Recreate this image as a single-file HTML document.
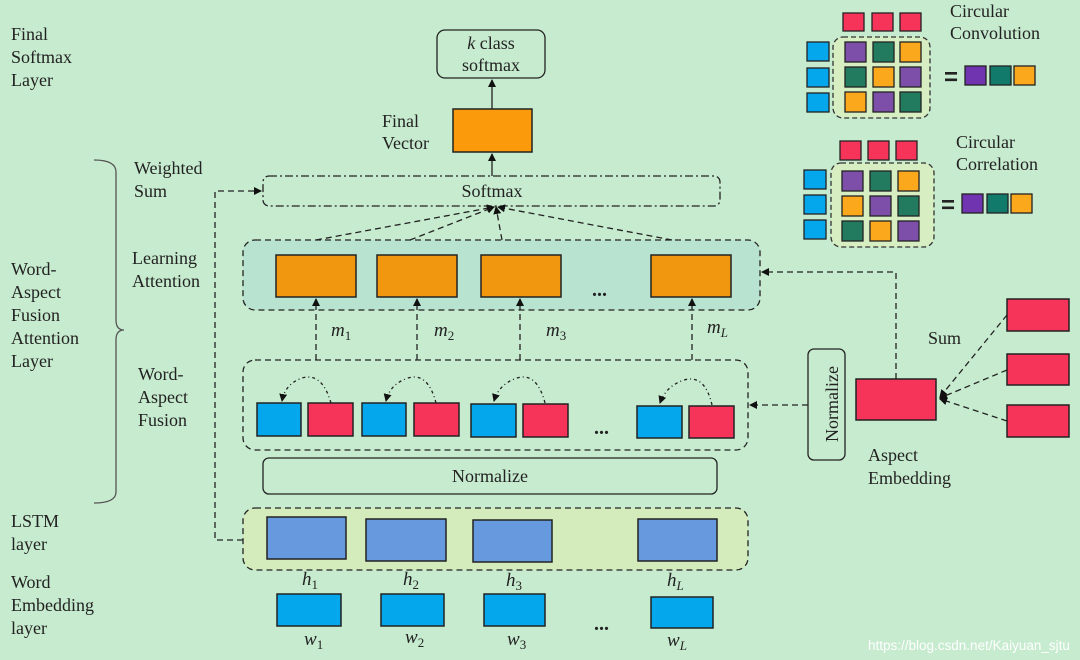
<!DOCTYPE html>
<html><head><meta charset="utf-8"><style>
html,body{margin:0;padding:0;background:#c7ebcf;}
svg{display:block;font-family:"Liberation Serif",serif;font-size:18px;fill:#222;}
.it{font-style:italic;}
</style></head><body>
<svg width="1080" height="660" viewBox="0 0 1080 660" xmlns="http://www.w3.org/2000/svg">
<defs>
<marker id="a" markerWidth="8" markerHeight="8" refX="7" refY="4" orient="auto" markerUnits="userSpaceOnUse"><path d="M0,0 L8,4 L0,8 z" fill="#111"/></marker>
</defs>
<rect width="1080" height="660" fill="#c7ebcf"/>
<g stroke="#222" stroke-width="1.3" fill="none">
<rect x="437" y="30" width="108" height="48" rx="8" fill="#c7ebcf"/>
<rect x="263" y="176" width="457" height="30" rx="6" stroke-dasharray="8,3,2,3"/>
<rect x="243" y="240" width="517" height="70" rx="12" fill="#b9e3d1" stroke-dasharray="6,4"/>
<rect x="243" y="360" width="505" height="90" rx="12" stroke-dasharray="6,4"/>
<rect x="263" y="458" width="454" height="36" rx="6"/>
<rect x="243" y="508" width="505" height="62" rx="12" fill="#d4ecbc" stroke-dasharray="6,4"/>
<rect x="808" y="349" width="37" height="111" rx="6"/>
<path d="M94,160 Q116,160 116,172 L116,320 Q116,330 124,330 Q116,330 116,340 L116,492 Q116,503 94,503" stroke="#555"/>
</g>
<g stroke="#222" stroke-width="1.3" fill="none" stroke-dasharray="6,4">
<line x1="492" y1="109" x2="492" y2="80" marker-end="url(#a)" stroke-dasharray="none"/>
<line x1="492" y1="176" x2="492" y2="154" marker-end="url(#a)" stroke-dasharray="none"/>
<line x1="316" y1="240" x2="494" y2="207" marker-end="url(#a)"/>
<line x1="410" y1="240" x2="494" y2="207" marker-end="url(#a)"/>
<line x1="502" y1="240" x2="496" y2="207" marker-end="url(#a)"/>
<line x1="672" y1="240" x2="498" y2="207" marker-end="url(#a)"/>
<line x1="316" y1="360" x2="316" y2="299" marker-end="url(#a)"/>
<line x1="417" y1="360" x2="417" y2="299" marker-end="url(#a)"/>
<line x1="520" y1="360" x2="520" y2="299" marker-end="url(#a)"/>
<line x1="692" y1="360" x2="692" y2="299" marker-end="url(#a)"/>
<polyline points="243,540 215,540 215,191 261,191" marker-end="url(#a)"/>
<line x1="808" y1="405" x2="750" y2="405" marker-end="url(#a)"/>
<polyline points="896,379 896,272 762,272" marker-end="url(#a)"/>
<line x1="1007" y1="315" x2="940" y2="397" marker-end="url(#a)"/>
<line x1="1007" y1="370" x2="940" y2="398" marker-end="url(#a)"/>
<line x1="1007" y1="421" x2="940" y2="399" marker-end="url(#a)"/>
<g stroke-dasharray="3,3,1,3">
<path d="M331,403 Q322,372 302,378 Q285,384 282,401" marker-end="url(#a)"/>
<path d="M436,403 Q428,372 408,378 Q390,384 386,401" marker-end="url(#a)"/>
<path d="M545,403 Q537,372 517,378 Q499,384 494,401" marker-end="url(#a)"/>
<path d="M712,405 Q705,374 684,380 Q666,386 660,403" marker-end="url(#a)"/>
</g>
</g>
<g stroke="#222" stroke-width="1.5">
<rect x="453" y="109" width="79" height="43" fill="#fb9a0b"/>
<g fill="#f0960f">
<rect x="276" y="255" width="80" height="42"/><rect x="377" y="255" width="80" height="42"/>
<rect x="481" y="255" width="80" height="42"/><rect x="651" y="255" width="80" height="42"/>
</g>
<g fill="#04a7ec">
<rect x="257" y="403" width="44" height="33"/><rect x="362" y="403" width="44" height="33"/>
<rect x="471" y="404" width="45" height="33"/><rect x="637" y="406" width="45" height="32"/>
<rect x="277" y="594" width="64" height="32"/><rect x="381" y="594" width="63" height="32"/>
<rect x="484" y="594" width="61" height="32"/><rect x="651" y="597" width="62" height="31"/>
</g>
<g fill="#f6345a">
<rect x="308" y="403" width="45" height="33"/><rect x="414" y="403" width="45" height="33"/>
<rect x="523" y="404" width="45" height="33"/><rect x="689" y="406" width="45" height="32"/>
<rect x="856" y="379" width="80" height="41"/>
<rect x="1007" y="299" width="62" height="32"/><rect x="1007" y="354" width="62" height="31"/><rect x="1007" y="405" width="62" height="32"/>
</g>
<g fill="#6699dd">
<rect x="267" y="517" width="79" height="42"/><rect x="366" y="519" width="80" height="42"/>
<rect x="473" y="520" width="79" height="42"/><rect x="638" y="519" width="79" height="42"/>
</g>
</g>
<g stroke="#333" stroke-width="1.3" fill="#d6eec2" stroke-dasharray="5,3">
<rect x="833" y="37" width="97" height="81" rx="10"/>
<rect x="831" y="163" width="103" height="84" rx="10"/>
</g>
<g stroke="#222" stroke-width="1.3">
<g fill="#f6345a">
<rect x="843" y="13" width="21" height="18"/><rect x="872" y="13" width="21" height="18"/><rect x="900" y="13" width="21" height="18"/>
<rect x="840" y="141" width="21" height="19"/><rect x="868" y="141" width="21" height="19"/><rect x="896" y="141" width="21" height="19"/>
</g>
<g fill="#04a7ec">
<rect x="807" y="42" width="22" height="19"/><rect x="807" y="68" width="22" height="19"/><rect x="807" y="93" width="22" height="19"/>
<rect x="804" y="170" width="22" height="19"/><rect x="804" y="195" width="22" height="19"/><rect x="804" y="220" width="22" height="19"/>
</g>
<rect x="845" y="42" width="21" height="20" fill="#7d4fa8"/><rect x="873" y="42" width="21" height="20" fill="#237b5f"/><rect x="900" y="42" width="21" height="20" fill="#fba81d"/>
<rect x="845" y="67" width="21" height="20" fill="#237b5f"/><rect x="873" y="67" width="21" height="20" fill="#fba81d"/><rect x="900" y="67" width="21" height="20" fill="#7d4fa8"/>
<rect x="845" y="92" width="21" height="20" fill="#fba81d"/><rect x="873" y="92" width="21" height="20" fill="#7d4fa8"/><rect x="900" y="92" width="21" height="20" fill="#237b5f"/>
<rect x="965" y="66" width="21" height="19" fill="#7034b0"/><rect x="990" y="66" width="21" height="19" fill="#117a6a"/><rect x="1014" y="66" width="21" height="19" fill="#fba81d"/>
<rect x="842" y="171" width="21" height="20" fill="#7d4fa8"/><rect x="870" y="171" width="21" height="20" fill="#237b5f"/><rect x="898" y="171" width="21" height="20" fill="#fba81d"/>
<rect x="842" y="196" width="21" height="20" fill="#fba81d"/><rect x="870" y="196" width="21" height="20" fill="#7d4fa8"/><rect x="898" y="196" width="21" height="20" fill="#237b5f"/>
<rect x="842" y="221" width="21" height="20" fill="#237b5f"/><rect x="870" y="221" width="21" height="20" fill="#fba81d"/><rect x="898" y="221" width="21" height="20" fill="#7d4fa8"/>
<rect x="962" y="194" width="21" height="19" fill="#7034b0"/><rect x="987" y="194" width="21" height="19" fill="#117a6a"/><rect x="1011" y="194" width="21" height="19" fill="#fba81d"/>
</g>
<text x="944" y="85" font-size="24" font-weight="bold" font-family="Liberation Sans">=</text>
<text x="941" y="213" font-size="24" font-weight="bold" font-family="Liberation Sans">=</text>
<text x="950" y="17">Circular</text><text x="950" y="39">Convolution</text>
<text x="956" y="148">Circular</text><text x="956" y="170">Correlation</text>
<text x="11" y="40">Final</text><text x="11" y="63">Softmax</text><text x="11" y="86">Layer</text>
<text x="11" y="275">Word-</text><text x="11" y="298">Aspect</text><text x="11" y="321">Fusion</text><text x="11" y="344">Attention</text><text x="11" y="367">Layer</text>
<text x="11" y="527">LSTM</text><text x="11" y="550">layer</text>
<text x="11" y="588">Word</text><text x="11" y="611">Embedding</text><text x="11" y="634">layer</text>
<text x="134" y="174">Weighted</text><text x="134" y="197">Sum</text>
<text x="132" y="264">Learning</text><text x="132" y="287">Attention</text>
<text x="138" y="380">Word-</text><text x="138" y="403">Aspect</text><text x="138" y="426">Fusion</text>
<text x="382" y="127">Final</text><text x="382" y="149">Vector</text>
<text x="491" y="49" text-anchor="middle"><tspan class="it">k</tspan> class</text>
<text x="491" y="71" text-anchor="middle">softmax</text>
<text x="492" y="197" text-anchor="middle">Softmax</text>
<text x="490" y="482" text-anchor="middle">Normalize</text>
<text x="832" y="404" text-anchor="middle" transform="rotate(-90 832 404)" dy="6">Normalize</text>
<text x="928" y="344">Sum</text>
<text x="868" y="461">Aspect</text><text x="868" y="484">Embedding</text>
<text x="592" y="296" font-size="20" font-weight="bold">...</text>
<text x="594" y="434" font-size="20" font-weight="bold">...</text>
<text x="594" y="630" font-size="20" font-weight="bold">...</text>
<g font-size="19">
<text x="331" y="336" class="it">m<tspan font-size="13" dy="4" font-style="normal">1</tspan></text>
<text x="434" y="336" class="it">m<tspan font-size="13" dy="4" font-style="normal">2</tspan></text>
<text x="546" y="336" class="it">m<tspan font-size="13" dy="4" font-style="normal">3</tspan></text>
<text x="707" y="333" class="it">m<tspan font-size="13" dy="4">L</tspan></text>
<text x="302" y="585" class="it">h<tspan font-size="13" dy="4" font-style="normal">1</tspan></text>
<text x="403" y="585" class="it">h<tspan font-size="13" dy="4" font-style="normal">2</tspan></text>
<text x="506" y="586" class="it">h<tspan font-size="13" dy="4" font-style="normal">3</tspan></text>
<text x="667" y="586" class="it">h<tspan font-size="13" dy="4">L</tspan></text>
<text x="304" y="645" class="it">w<tspan font-size="13" dy="4" font-style="normal">1</tspan></text>
<text x="405" y="643" class="it">w<tspan font-size="13" dy="4" font-style="normal">2</tspan></text>
<text x="507" y="645" class="it">w<tspan font-size="13" dy="4" font-style="normal">3</tspan></text>
<text x="667" y="646" class="it">w<tspan font-size="13" dy="4">L</tspan></text>
</g>
<text x="868" y="650" font-size="13.5" fill="#fff" font-family="Liberation Sans, sans-serif">https://blog.csdn.net/Kaiyuan_sjtu</text>
</svg>
</body></html>
